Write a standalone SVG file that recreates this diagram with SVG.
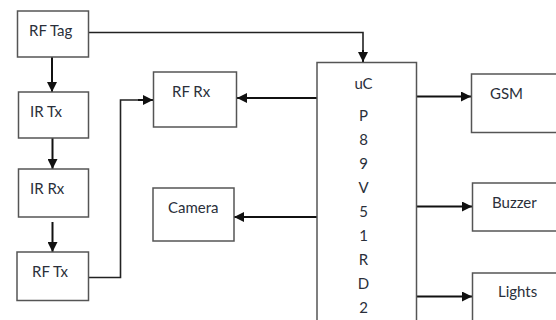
<svg xmlns="http://www.w3.org/2000/svg" width="556" height="320" viewBox="0 0 556 320">
<defs>
<marker id="ah" viewBox="0 0 10 10" refX="10" refY="5" markerWidth="10" markerHeight="10" markerUnits="userSpaceOnUse" orient="auto">
<path d="M0,0 L10,5 L0,10 z" fill="#111"/>
</marker>
<style>
.box{fill:#fff;stroke:#555;stroke-width:1.5}
.t{font-family:Lato,"Open Sans",sans-serif;font-size:15px;fill:#2a2f3a}
.c{fill:none;stroke:#222;stroke-width:1.6}
.a{fill:none;stroke:#111;stroke-width:2;marker-end:url(#ah)}
</style>
</defs>
<rect width="556" height="320" fill="#fff"/>
<g id="connectors">
<polyline class="c" points="88,32.5 363,32.5 363,52" />
<line class="a" x1="363" y1="50" x2="363" y2="62"/>
<line class="a" x1="52" y1="57" x2="52" y2="92"/>
<line class="a" x1="52.5" y1="138" x2="52.5" y2="169"/>
<line class="a" x1="52.5" y1="222" x2="52.5" y2="252"/>
<polyline class="c" points="89,277.5 120.5,277.5 120.5,100 140,100"/>
<line class="a" x1="138" y1="100" x2="153" y2="100"/>
<line class="a" x1="317" y1="98" x2="237" y2="98"/>
<line class="a" x1="317" y1="217" x2="234" y2="217"/>
<line class="a" x1="417" y1="96.5" x2="471" y2="96.5"/>
<line class="a" x1="415" y1="206.5" x2="472" y2="206.5"/>
<line class="a" x1="417" y1="296.5" x2="472" y2="296.5"/>
</g>
<g id="rftag"><rect class="box" x="17.5" y="11" width="71" height="46"/><text class="t" x="29" y="36">RF Tag</text></g>
<g id="irtx"><rect class="box" x="18.5" y="92" width="70" height="46"/><text class="t" x="30" y="117">IR Tx</text></g>
<g id="irrx"><rect class="box" x="18.5" y="169" width="70" height="48"/><text class="t" x="30" y="194">IR Rx</text></g>
<g id="rftx"><rect class="box" x="17" y="252" width="71.5" height="48.5"/><text class="t" x="32" y="277">RF Tx</text></g>
<g id="rfrx"><rect class="box" x="153.5" y="72" width="83" height="55"/><text class="t" x="172" y="97">RF Rx</text></g>
<g id="camera"><rect class="box" x="153" y="188" width="81" height="53"/><text class="t" x="168" y="213">Camera</text></g>
<g id="uc"><rect class="box" x="317" y="62.5" width="99.5" height="270"/>
<g class="t" text-anchor="middle">
<text x="363.5" y="89">uC</text>
<text x="363.5" y="121">P</text>
<text x="363.5" y="145">8</text>
<text x="363.5" y="169">9</text>
<text x="363.5" y="193">V</text>
<text x="363.5" y="217">5</text>
<text x="363.5" y="241">1</text>
<text x="363.5" y="265">R</text>
<text x="363.5" y="289">D</text>
<text x="363.5" y="313">2</text>
</g></g>
<g id="gsm"><rect class="box" x="471.5" y="74" width="100" height="58.5"/><text class="t" x="490" y="99">GSM</text></g>
<g id="buzzer"><rect class="box" x="472.5" y="183" width="100" height="48"/><text class="t" x="492" y="208">Buzzer</text></g>
<g id="lights"><rect class="box" x="472.5" y="273" width="100" height="60"/><text class="t" x="498" y="297">Lights</text></g>
</svg>
